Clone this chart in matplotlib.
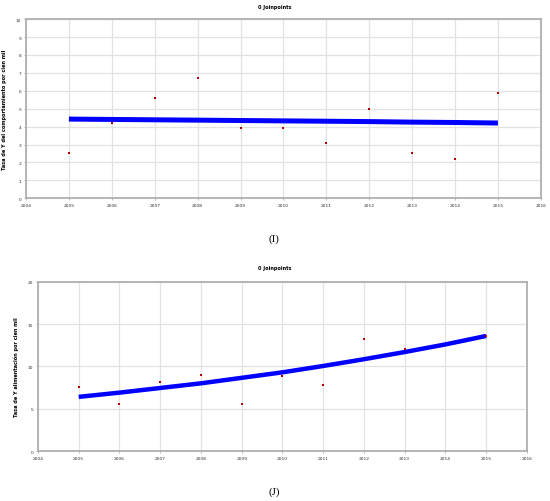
import matplotlib
matplotlib.use("Agg")
import matplotlib.pyplot as plt

# Panel I data
years_i = [2005, 2006, 2007, 2008, 2009, 2010, 2011, 2012, 2013, 2014, 2015]
obs_i = [2.5, 4.2, 5.6, 6.7, 3.9, 3.9, 3.1, 5.0, 2.5, 2.2, 5.9]
trend_i = [4.42, 4.40, 4.38, 4.36, 4.34, 4.32, 4.30, 4.28, 4.25, 4.23, 4.20]

# Panel J data
years_j = [2005, 2006, 2007, 2008, 2009, 2010, 2011, 2012, 2013, 2015]
obs_j = [7.6, 5.5, 8.1, 9.0, 5.5, 8.9, 7.8, 13.2, 12.0, 13.6]
trend_years_j = [2005, 2006, 2007, 2008, 2009, 2010, 2011, 2012, 2013, 2014, 2015]
trend_j = [6.4, 6.9, 7.45, 8.0, 8.65, 9.3, 10.05, 10.85, 11.7, 12.6, 13.6]

xticks = list(range(2004, 2017))
title = "0 Joinpoints"
ylabel_i = "Tasa de Y del comportamiento por cien mil"
ylabel_j = "Tasa de Y alimentación por cien mil"

fig = plt.figure(figsize=(5.5, 5.02), dpi=100)
fig.patch.set_facecolor("white")


def style(ax, ymax, ystep):
    ax.set_xlim(2004, 2016)
    ax.set_ylim(0, ymax)
    ax.set_xticks(xticks)
    ax.set_yticks(list(range(0, ymax + 1, ystep)))
    ax.tick_params(labelsize=3.2, length=1.5, width=0.5, colors="#999999", labelcolor="#333333", pad=2)
    ax.grid(True, color="#e2e2e2", linewidth=0.9)
    ax.set_axisbelow(True)
    for s in ax.spines.values():
        s.set_color("#b0b0b0")
        s.set_linewidth(1.3)


ax1 = fig.add_axes([0.0473, 0.603, 0.936, 0.357])
style(ax1, 10, 1)
ax1.plot(years_i, trend_i, color="#0000ff", linewidth=3.6, solid_capstyle="butt", zorder=3)
ax1.scatter(years_i, obs_i, marker="s", s=4, color="#b00000", zorder=4, linewidths=0)
ax1.set_ylabel(ylabel_i, fontsize=3.6, fontweight="bold")
ax1.yaxis.set_label_coords(-0.037, 0.5)
fig.text(0.5, 0.99, title, fontsize=3.6, fontweight="bold", ha="center", va="top")

ax2 = fig.add_axes([0.069, 0.0996, 0.889, 0.337])
style(ax2, 20, 5)
ax2.plot(trend_years_j, trend_j, color="#0000ff", linewidth=3.2, solid_capstyle="butt", zorder=3)
ax2.scatter(years_j, obs_j, marker="s", s=4, color="#b00000", zorder=4, linewidths=0)
ax2.set_ylabel(ylabel_j, fontsize=3.6, fontweight="bold")
ax2.yaxis.set_label_coords(-0.039, 0.5)
fig.text(0.5, 1 - 269 / 502, title, fontsize=3.6, fontweight="bold", ha="center", va="center")

fig.text(274 / 550, 1 - 239 / 502, "(I)", fontsize=8, family="Liberation Serif", ha="center", va="center")
fig.text(274 / 550, 1 - 492 / 502, "(J)", fontsize=8, family="Liberation Serif", ha="center", va="center")

fig.savefig("out.png", dpi=100)
